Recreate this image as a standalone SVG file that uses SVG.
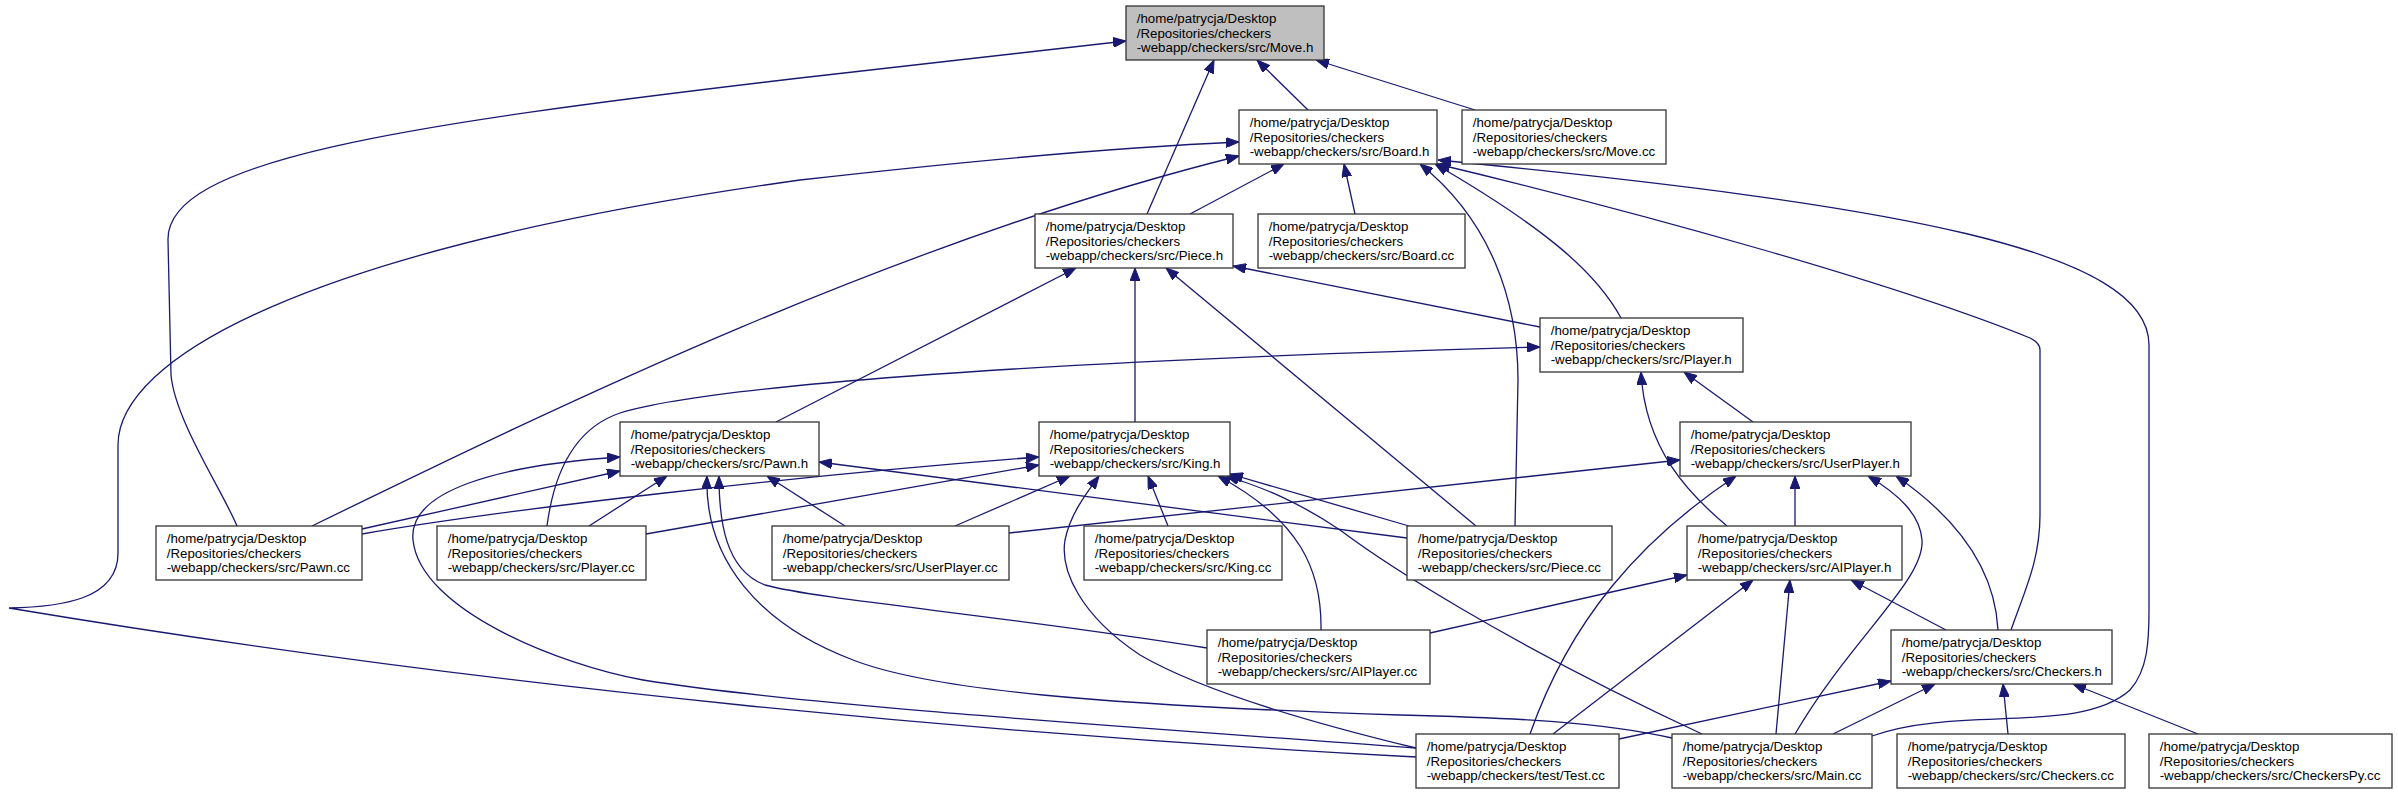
<svg xmlns="http://www.w3.org/2000/svg" width="2398" height="795" viewBox="0 0 2398 795">
<style>
.n rect{fill:#ffffff;stroke:#333333;stroke-width:1.3}
.n.root rect{fill:#bfbfbf}
.n text{font-family:"Liberation Sans",Arial,Helvetica,sans-serif;font-size:13.3px;fill:#000000}
.e path{fill:none;stroke:#191970;stroke-width:1.3;marker-end:url(#arr)}
</style>
<defs>
<marker id="arr" markerUnits="userSpaceOnUse" markerWidth="13" markerHeight="10" viewBox="0 0 13 10" refX="13" refY="5" orient="auto">
<path d="M0,0 L13,5 L0,10 z" fill="#191970" stroke="#191970" stroke-width="1"/>
</marker>
</defs>
<rect width="2398" height="795" fill="#ffffff"/>
<g id="edges" class="e">
<path d="M1308,110 L1257,60"/>
<path d="M1475,110 L1316,60"/>
<path d="M1147,214 L1214,60"/>
<path d="M237,526 C222,490 175,420 171,375 L168,240 C166,160 400,125 800,78 L1126,41"/>
<path d="M1190,214 L1284,164"/>
<path d="M1355,214 L1344,164"/>
<path d="M312,526 C560,405 900,240 1239,156"/>
<path d="M1416,757 C1000,735 500,690 9,608 C60,607 118,600 118,553 L118,445 C118,360 300,250 800,180 C950,163 1100,148 1239,142"/>
<path d="M1621,318 C1595,270 1540,225 1435,164"/>
<path d="M1515,526 L1518,380 C1518,300 1490,220 1420,164"/>
<path d="M2011,630 C2025,590 2040,560 2040,515 L2040,350 C2040,344 2036,341 2030,338 C1900,285 1650,215 1437,164"/>
<path d="M1872,736 C1960,705 2080,735 2130,690 C2148,670 2149,640 2149,610 L2149,345 C2149,250 1900,205 1438,160"/>
<path d="M776,422 L1076,268"/>
<path d="M1135,422 L1135,268"/>
<path d="M1476,526 L1166,268"/>
<path d="M1540,327 L1233,266"/>
<path d="M547,526 C553,480 570,430 620,413 C700,388 1000,362 1540,347"/>
<path d="M1753,422 L1684,372"/>
<path d="M1727,526 C1690,495 1645,450 1641,372"/>
<path d="M362,529 L620,471"/>
<path d="M1416,748 C1100,725 800,705 643,680 C560,665 420,610 413,540 C408,490 500,465 620,457"/>
<path d="M589,526 L667,476"/>
<path d="M845,526 L767,476"/>
<path d="M1407,538 L819,462"/>
<path d="M1207,648 C1000,615 820,600 765,585 C725,570 719,520 719,476"/>
<path d="M1672,738 C1600,722 1520,718 1400,715 C1100,705 930,690 853,660 C760,625 704,560 707,476"/>
<path d="M362,534 C500,510 800,475 1039,457"/>
<path d="M646,534 L1039,465"/>
<path d="M955,526 L1070,476"/>
<path d="M1168,526 L1148,476"/>
<path d="M1409,526 L1230,474"/>
<path d="M1321,630 C1322,570 1300,520 1218,476"/>
<path d="M1416,748 C1300,720 1200,690 1140,655 C1080,615 1060,570 1065,540 C1070,515 1085,495 1099,476"/>
<path d="M1702,734 C1500,640 1380,560 1340,530 C1300,503 1265,488 1226,476"/>
<path d="M1009,533 L1680,460"/>
<path d="M1795,526 L1795,476"/>
<path d="M1530,734 C1570,620 1640,540 1736,476"/>
<path d="M1795,734 C1850,640 1925,580 1922,540 C1920,515 1900,495 1868,476"/>
<path d="M1998,630 C1995,570 1960,520 1896,476"/>
<path d="M1430,633 L1687,575"/>
<path d="M1553,734 L1753,580"/>
<path d="M1776,734 L1790,580"/>
<path d="M1946,630 L1851,580"/>
<path d="M1619,739 L1891,681"/>
<path d="M1833,734 L1935,684"/>
<path d="M2008,734 L2003,684"/>
<path d="M2198,734 L2073,684"/>
</g>
<g id="node-move-h" class="n root"><rect x="1126" y="6" width="198" height="54"/><text x="1136.7" y="23">/home/patrycja/Desktop</text><text x="1136.7" y="37.5">/Repositories/checkers</text><text x="1136.7" y="52">-webapp/checkers/src/Move.h</text></g>
<g id="node-board-h" class="n"><rect x="1239" y="110" width="198" height="54"/><text x="1249.7" y="127">/home/patrycja/Desktop</text><text x="1249.7" y="141.5">/Repositories/checkers</text><text x="1249.7" y="156">-webapp/checkers/src/Board.h</text></g>
<g id="node-move-cc" class="n"><rect x="1462" y="110" width="204" height="54"/><text x="1472.7" y="127">/home/patrycja/Desktop</text><text x="1472.7" y="141.5">/Repositories/checkers</text><text x="1472.7" y="156">-webapp/checkers/src/Move.cc</text></g>
<g id="node-piece-h" class="n"><rect x="1035" y="214" width="198" height="54"/><text x="1045.7" y="231">/home/patrycja/Desktop</text><text x="1045.7" y="245.5">/Repositories/checkers</text><text x="1045.7" y="260">-webapp/checkers/src/Piece.h</text></g>
<g id="node-board-cc" class="n"><rect x="1258" y="214" width="207" height="54"/><text x="1268.7" y="231">/home/patrycja/Desktop</text><text x="1268.7" y="245.5">/Repositories/checkers</text><text x="1268.7" y="260">-webapp/checkers/src/Board.cc</text></g>
<g id="node-player-h" class="n"><rect x="1540" y="318" width="203" height="54"/><text x="1550.7" y="335">/home/patrycja/Desktop</text><text x="1550.7" y="349.5">/Repositories/checkers</text><text x="1550.7" y="364">-webapp/checkers/src/Player.h</text></g>
<g id="node-pawn-h" class="n"><rect x="620" y="422" width="199" height="54"/><text x="630.7" y="439">/home/patrycja/Desktop</text><text x="630.7" y="453.5">/Repositories/checkers</text><text x="630.7" y="468">-webapp/checkers/src/Pawn.h</text></g>
<g id="node-king-h" class="n"><rect x="1039" y="422" width="191" height="54"/><text x="1049.7" y="439">/home/patrycja/Desktop</text><text x="1049.7" y="453.5">/Repositories/checkers</text><text x="1049.7" y="468">-webapp/checkers/src/King.h</text></g>
<g id="node-userplayer-h" class="n"><rect x="1680" y="422" width="231" height="54"/><text x="1690.7" y="439">/home/patrycja/Desktop</text><text x="1690.7" y="453.5">/Repositories/checkers</text><text x="1690.7" y="468">-webapp/checkers/src/UserPlayer.h</text></g>
<g id="node-pawn-cc" class="n"><rect x="156" y="526" width="206" height="54"/><text x="166.7" y="543">/home/patrycja/Desktop</text><text x="166.7" y="557.5">/Repositories/checkers</text><text x="166.7" y="572">-webapp/checkers/src/Pawn.cc</text></g>
<g id="node-player-cc" class="n"><rect x="437" y="526" width="209" height="54"/><text x="447.7" y="543">/home/patrycja/Desktop</text><text x="447.7" y="557.5">/Repositories/checkers</text><text x="447.7" y="572">-webapp/checkers/src/Player.cc</text></g>
<g id="node-userplayer-cc" class="n"><rect x="772" y="526" width="237" height="54"/><text x="782.7" y="543">/home/patrycja/Desktop</text><text x="782.7" y="557.5">/Repositories/checkers</text><text x="782.7" y="572">-webapp/checkers/src/UserPlayer.cc</text></g>
<g id="node-king-cc" class="n"><rect x="1084" y="526" width="198" height="54"/><text x="1094.7" y="543">/home/patrycja/Desktop</text><text x="1094.7" y="557.5">/Repositories/checkers</text><text x="1094.7" y="572">-webapp/checkers/src/King.cc</text></g>
<g id="node-piece-cc" class="n"><rect x="1407" y="526" width="205" height="54"/><text x="1417.7" y="543">/home/patrycja/Desktop</text><text x="1417.7" y="557.5">/Repositories/checkers</text><text x="1417.7" y="572">-webapp/checkers/src/Piece.cc</text></g>
<g id="node-aiplayer-h" class="n"><rect x="1687" y="526" width="215" height="54"/><text x="1697.7" y="543">/home/patrycja/Desktop</text><text x="1697.7" y="557.5">/Repositories/checkers</text><text x="1697.7" y="572">-webapp/checkers/src/AIPlayer.h</text></g>
<g id="node-aiplayer-cc" class="n"><rect x="1207" y="630" width="223" height="54"/><text x="1217.7" y="647">/home/patrycja/Desktop</text><text x="1217.7" y="661.5">/Repositories/checkers</text><text x="1217.7" y="676">-webapp/checkers/src/AIPlayer.cc</text></g>
<g id="node-checkers-h" class="n"><rect x="1891" y="630" width="221" height="54"/><text x="1901.7" y="647">/home/patrycja/Desktop</text><text x="1901.7" y="661.5">/Repositories/checkers</text><text x="1901.7" y="676">-webapp/checkers/src/Checkers.h</text></g>
<g id="node-test-cc" class="n"><rect x="1416" y="734" width="203" height="54"/><text x="1426.7" y="751">/home/patrycja/Desktop</text><text x="1426.7" y="765.5">/Repositories/checkers</text><text x="1426.7" y="780">-webapp/checkers/test/Test.cc</text></g>
<g id="node-main-cc" class="n"><rect x="1672" y="734" width="200" height="54"/><text x="1682.7" y="751">/home/patrycja/Desktop</text><text x="1682.7" y="765.5">/Repositories/checkers</text><text x="1682.7" y="780">-webapp/checkers/src/Main.cc</text></g>
<g id="node-checkers-cc" class="n"><rect x="1897" y="734" width="228" height="54"/><text x="1907.7" y="751">/home/patrycja/Desktop</text><text x="1907.7" y="765.5">/Repositories/checkers</text><text x="1907.7" y="780">-webapp/checkers/src/Checkers.cc</text></g>
<g id="node-checkerspy-cc" class="n"><rect x="2149" y="734" width="243" height="54"/><text x="2159.7" y="751">/home/patrycja/Desktop</text><text x="2159.7" y="765.5">/Repositories/checkers</text><text x="2159.7" y="780">-webapp/checkers/src/CheckersPy.cc</text></g>
</svg>
